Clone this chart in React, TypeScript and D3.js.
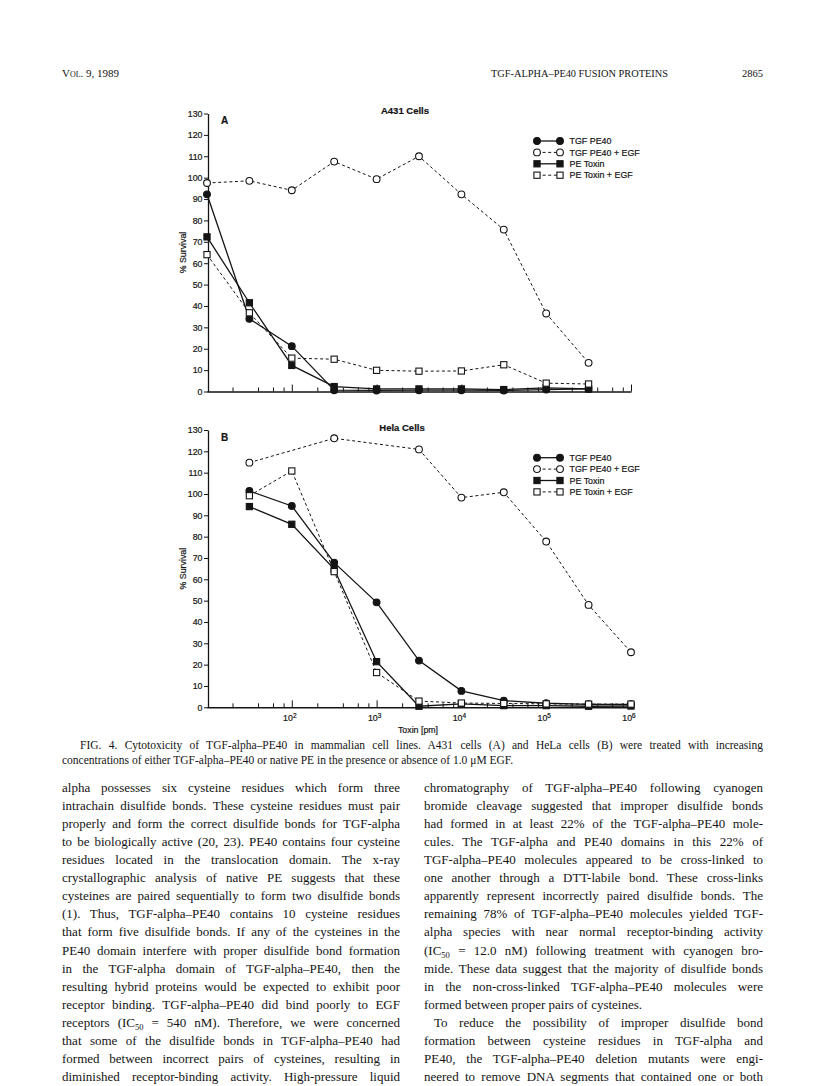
import * as d3 from "d3";
import React, { useEffect, useLayoutEffect, useRef } from "react";

const INK = "#141414";
const SANS = "'Liberation Sans', Arial, Helvetica, sans-serif";
const SERIF = "'Liberation Serif', 'Times New Roman', serif";

// doses [pm]
const doseA = [10, 31.6, 100, 316, 1000, 3160, 10000, 31600, 100000, 316000];
const doseB = [31.6, 100, 316, 1000, 3160, 10000, 31600, 100000, 316000, 1000000];
const doseBEgf = [31.6, 316, 3160, 10000, 31600, 100000, 316000, 1000000];

// % survival, A431 cells
const tgfA = [92.2, 34.0, 21.2, 0.6, 0.5, 0.6, 0.6, 0.5, 0.9, 1.2];
const tgfEgfA = [97.5, 98.5, 94.1, 107.5, 99.3, 110.0, 92.2, 75.7, 36.5, 13.4];
const peA = [72.3, 41.5, 12.2, 2.3, 1.2, 1.2, 1.2, 0.9, 1.7, 1.2];
const peEgfA = [64.0, 36.8, 15.6, 15.1, 9.9, 9.5, 9.6, 12.5, 3.9, 3.5];

// % survival, HeLa cells
const tgfB = [101.4, 94.4, 67.8, 49.2, 21.9, 7.7, 3.1, 1.9, 1.4, 1.4];
const tgfEgfB = [114.7, 126.1, 120.9, 98.3, 100.8, 77.7, 48.0, 25.8];
const peB = [94.1, 85.8, 64.8, 21.4, 0.5, 1.6, 0.8, 0.8, 0.5, 0.6];
const peEgfB = [99.2, 110.8, 63.6, 16.3, 2.9, 2.0, 1.8, 1.6, 1.5, 1.5];

const yTickValues = [0, 10, 20, 30, 40, 50, 60, 70, 80, 90, 100, 110, 120, 130];
const majorX = [100, 1000, 10000, 100000, 1000000];
const majorExp = ["2", "3", "4", "5", "6"];
const minorMult = [2, 4, 6, 8];
const decades = [10, 100, 1000, 10000, 100000];
const legendLabels = ["TGF PE40", "TGF PE40 + EGF", "PE Toxin", "PE Toxin  + EGF"];

const leftCol = [
  "alpha possesses six cysteine residues which form three",
  "intrachain disulfide bonds. These cysteine residues must pair",
  "properly and form the correct disulfide bonds for TGF-alpha",
  "to be biologically active (20, 23). PE40 contains four cysteine",
  "residues located in the translocation domain. The x-ray",
  "crystallographic analysis of native PE suggests that these",
  "cysteines are paired sequentially to form two disulfide bonds",
  "(1). Thus, TGF-alpha\u2013PE40 contains 10 cysteine residues",
  "that form five disulfide bonds. If any of the cysteines in the",
  "PE40 domain interfere with proper disulfide bond formation",
  "in the TGF-alpha domain of TGF-alpha\u2013PE40, then the",
  "resulting hybrid proteins would be expected to exhibit poor",
  "receptor binding. TGF-alpha\u2013PE40 did bind poorly to EGF",
  "receptors (IC50 = 540 nM). Therefore, we were concerned",
  "that some of the disulfide bonds in TGF-alpha\u2013PE40 had",
  "formed between incorrect pairs of cysteines, resulting in",
  "diminished receptor-binding activity. High-pressure liquid",
];

const rightCol = [
  "chromatography of TGF-alpha\u2013PE40 following cyanogen",
  "bromide cleavage suggested that improper disulfide bonds",
  "had formed in at least 22% of the TGF-alpha\u2013PE40 mole-",
  "cules. The TGF-alpha and PE40 domains in this 22% of",
  "TGF-alpha\u2013PE40 molecules appeared to be cross-linked to",
  "one another through a DTT-labile bond. These cross-links",
  "apparently represent incorrectly paired disulfide bonds. The",
  "remaining 78% of TGF-alpha\u2013PE40 molecules yielded TGF-",
  "alpha species with near normal receptor-binding activity",
  "(IC50 = 12.0 nM) following treatment with cyanogen bro-",
  "mide. These data suggest that the majority of disulfide bonds",
  "in the non-cross-linked TGF-alpha\u2013PE40 molecules were",
  "formed between proper pairs of cysteines.",
  "To reduce the possibility of improper disulfide bond",
  "formation between cysteine residues in TGF-alpha and",
  "PE40, the TGF-alpha\u2013PE40 deletion mutants were engi-",
  "neered to remove DNA segments that contained one or both",
];

const caption = [
  "FIG. 4. Cytotoxicity of TGF-alpha\u2013PE40 in mammalian cell lines. A431 cells (A) and HeLa cells (B) were treated with increasing",
  "concentrations of either TGF-alpha\u2013PE40 or native PE in the presence or absence of 1.0 \u03bcM EGF.",
];

type Series = {
  label: string;
  dose: number[];
  values: number[];
  shape: "circle" | "square";
  filled: boolean;
  dashed: boolean;
};

const X0 = 207;
const X1 = 631;

function Marker({ cx, cy, shape, filled }: { cx: number; cy: number; shape: string; filled: boolean }) {
  const fill = filled ? INK : "#fff";
  if (shape === "circle") {
    return <circle cx={cx} cy={cy} r={3.4} fill={fill} stroke={INK} strokeWidth={1.1} />;
  }
  return <rect x={cx - 3.1} y={cy - 3.1} width={6.2} height={6.2} fill={fill} stroke={INK} strokeWidth={1.1} />;
}

function Panel({
  top,
  bottom,
  title,
  titleX,
  letter,
  series,
  legendY,
  showXLabels,
}: {
  top: number;
  bottom: number;
  title: string;
  titleX: number;
  letter: string;
  series: Series[];
  legendY: number;
  showXLabels: boolean;
}) {
  const yRef = useRef<SVGGElement>(null);
  const xMinorRef = useRef<SVGGElement>(null);
  const xMajorRef = useRef<SVGGElement>(null);

  const x = d3.scaleLog().domain([10, 1e6]).range([X0, X1]);
  const y = d3.scaleLinear().domain([0, 130]).range([bottom, top]);
  const minorTicks = decades.flatMap((d) => minorMult.map((m) => m * d));

  useEffect(() => {
    const gy = d3.select(yRef.current!);
    gy.call(
      d3.axisLeft(y).tickValues(yTickValues).tickSize(4).tickSizeOuter(0).tickPadding(1.5).tickFormat(d3.format("d"))
    );
    gy.attr("font-family", SANS).attr("font-size", 8.8).style("color", INK);
    gy.selectAll("text").attr("fill", INK).attr("stroke", INK).attr("stroke-width", 0.2);
    gy.select(".domain").attr("stroke-width", 1.3);

    const gm = d3.select(xMinorRef.current!);
    gm.call(d3.axisBottom(x).tickValues(minorTicks).tickSize(-4).tickSizeOuter(0).tickFormat(() => ""));
    gm.style("color", INK);
    gm.select(".domain").attr("stroke-width", 1.4);

    const gM = d3.select(xMajorRef.current!);
    gM.call(d3.axisBottom(x).tickValues(majorX).tickSize(-7).tickSizeOuter(0).tickFormat(() => ""));
    gM.style("color", INK);
    gM.select(".domain").remove();
  });

  const line = d3
    .line<[number, number]>()
    .x((d) => x(d[0]))
    .y((d) => y(d[1]));

  const lx0 = 537;
  const lx1 = 560;
  const txt = { fontFamily: SANS, fill: INK, stroke: INK, strokeWidth: 0.2 };

  return (
    <g>
      <text x={titleX} y={top + 0.5} textAnchor="middle" fontSize={9.5} fontWeight="bold" {...txt}>
        {title}
      </text>
      <text x={221} y={top + 10.5} fontSize={10} fontWeight="bold" {...txt}>
        {letter}
      </text>
      <text transform={`translate(186,${(top + bottom) / 2}) rotate(-90)`} textAnchor="middle" fontSize={8.8} {...txt}>
        % Survival
      </text>

      <g ref={yRef} transform={`translate(${X0 + 1},0)`} />
      <g ref={xMinorRef} transform={`translate(0,${bottom})`} />
      <g ref={xMajorRef} transform={`translate(0,${bottom})`} />

      {showXLabels &&
        majorX.map((v, i) => (
          <text key={v} x={x(v) - 2} y={bottom + 14} textAnchor="middle" fontSize={8.8} {...txt}>
            10
            <tspan dy={-3.5} fontSize={6.5}>
              {majorExp[i]}
            </tspan>
          </text>
        ))}
      {showXLabels && (
        <text x={418} y={bottom + 26} textAnchor="middle" fontSize={8.8} {...txt}>
          Toxin [pm]
        </text>
      )}

      {series.map((s) => (
        <path
          key={s.label + "-line"}
          d={line(s.dose.map((d, i) => [d, s.values[i]]) as [number, number][]) || ""}
          fill="none"
          stroke={INK}
          strokeWidth={s.dashed ? 1 : 1.3}
          strokeDasharray={s.dashed ? "3,2.6" : undefined}
        />
      ))}
      {series.map((s) =>
        s.dose.map((d, i) => (
          <Marker key={s.label + i} cx={x(d)} cy={y(s.values[i])} shape={s.shape} filled={s.filled} />
        ))
      )}

      {series.map((s, i) => {
        const ly = legendY + i * 11.4;
        return (
          <g key={s.label + "-legend"}>
            <line
              x1={lx0}
              x2={lx1}
              y1={ly}
              y2={ly}
              stroke={INK}
              strokeWidth={s.dashed ? 1 : 1.3}
              strokeDasharray={s.dashed ? "3,2.6" : undefined}
            />
            <Marker cx={lx0} cy={ly} shape={s.shape} filled={s.filled} />
            <Marker cx={lx1} cy={ly} shape={s.shape} filled={s.filled} />
            <text x={569.5} y={ly + 3.2} fontSize={8.9} {...txt}>
              {legendLabels[i]}
            </text>
          </g>
        );
      })}
    </g>
  );
}

function rich(s: string) {
  const k = s.indexOf("IC50");
  if (k < 0) return s;
  return (
    <>
      {s.slice(0, k)}IC
      <tspan dy={3} fontSize={8.5}>
        50
      </tspan>
      <tspan dy={-3}>{s.slice(k + 4)}</tspan>
    </>
  );
}

// justified by stretching the word gaps, like the typeset page
function BodyLine({ x, y, width, justify, text, size }: { x: number; y: number; width: number; justify: boolean; text: string; size: number }) {
  const ref = useRef<SVGTextElement>(null);
  useLayoutEffect(() => {
    const el = ref.current;
    if (!el || !justify) return;
    el.style.wordSpacing = "0px";
    const natural = el.getComputedTextLength();
    const gaps = text.split(" ").length - 1;
    if (gaps > 0) el.style.wordSpacing = `${(width - natural) / gaps}px`;
  });
  return (
    <text ref={ref} x={x} y={y} fontFamily={SERIF} fontSize={size} fill={INK}>
      {rich(text)}
    </text>
  );
}

export default function App() {
  const seriesA: Series[] = [
    { label: "tgf", dose: doseA, values: tgfA, shape: "circle", filled: true, dashed: false },
    { label: "tgfEgf", dose: doseA, values: tgfEgfA, shape: "circle", filled: false, dashed: true },
    { label: "pe", dose: doseA, values: peA, shape: "square", filled: true, dashed: false },
    { label: "peEgf", dose: doseA, values: peEgfA, shape: "square", filled: false, dashed: true },
  ];
  const seriesB: Series[] = [
    { label: "tgf", dose: doseB, values: tgfB, shape: "circle", filled: true, dashed: false },
    { label: "tgfEgf", dose: doseBEgf, values: tgfEgfB, shape: "circle", filled: false, dashed: true },
    { label: "pe", dose: doseB, values: peB, shape: "square", filled: true, dashed: false },
    { label: "peEgf", dose: doseB, values: peEgfB, shape: "square", filled: false, dashed: true },
  ];

  const lineGap = 18.06;

  return (
    <svg width={820} height={1086} style={{ position: "absolute", left: 0, top: 0, background: "#fff" }}>
      <rect width={820} height={1086} fill="#fff" />
      {/* running head */}
      <text x={62} y={77} fontFamily={SERIF} fontSize={11} fill={INK} style={{ fontVariant: "small-caps" }}>
        Vol. 9, 1989
      </text>
      <text x={491} y={77} fontFamily={SERIF} fontSize={10.5} fill={INK} textLength={177} lengthAdjust="spacingAndGlyphs">
        TGF-ALPHA{"\u2013"}PE40 FUSION PROTEINS
      </text>
      <text x={763} y={77} textAnchor="end" fontFamily={SERIF} fontSize={10.5} fill={INK}>
        2865
      </text>

      <Panel
        top={113.5}
        bottom={391.5}
        title="A431 Cells"
        titleX={405}
        letter="A"
        series={seriesA}
        legendY={141}
        showXLabels={false}
      />
      <Panel
        top={430}
        bottom={707.3}
        title="Hela Cells"
        titleX={402}
        letter="B"
        series={seriesB}
        legendY={457.7}
        showXLabels={true}
      />

      <BodyLine x={80} y={749} width={683} justify={true} text={caption[0]} size={11.5} />
      <BodyLine x={62} y={764} width={701} justify={false} text={caption[1]} size={11.5} />

      {leftCol.map((t, i) => (
        <BodyLine key={"l" + i} x={62} y={792 + i * lineGap} width={338} justify={true} text={t} size={13} />
      ))}
      {rightCol.map((t, i) => (
        <BodyLine
          key={"r" + i}
          x={i === 13 ? 434 : 424}
          y={792 + i * lineGap}
          width={i === 13 ? 329 : 339}
          justify={i !== 12}
          text={t}
          size={13}
        />
      ))}
    </svg>
  );
}
